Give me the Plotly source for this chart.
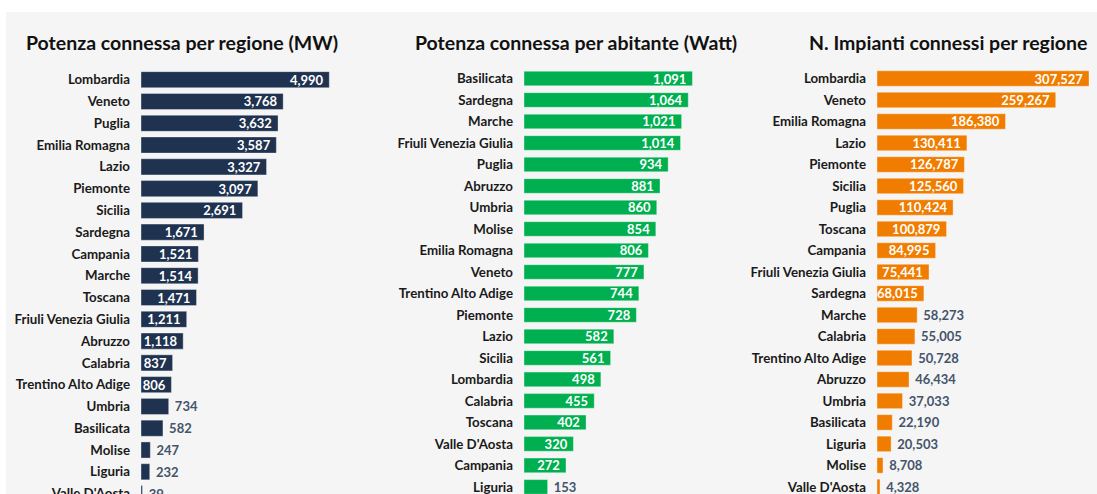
import plotly.graph_objects as go

# Potenza connessa per regione (MW)
regioni_mw = ["Lombardia", "Veneto", "Puglia", "Emilia Romagna", "Lazio", "Piemonte",
              "Sicilia", "Sardegna", "Campania", "Marche", "Toscana", "Friuli Venezia Giulia",
              "Abruzzo", "Calabria", "Trentino Alto Adige", "Umbria", "Basilicata", "Molise",
              "Liguria", "Valle D'Aosta"]
potenza_mw = [4990, 3768, 3632, 3587, 3327, 3097, 2691, 1671, 1521, 1514, 1471, 1211,
              1118, 837, 806, 734, 582, 247, 232, 39]

# Potenza connessa per abitante (Watt)
regioni_watt = ["Basilicata", "Sardegna", "Marche", "Friuli Venezia Giulia", "Puglia", "Abruzzo",
                "Umbria", "Molise", "Emilia Romagna", "Veneto", "Trentino Alto Adige", "Piemonte",
                "Lazio", "Sicilia", "Lombardia", "Calabria", "Toscana", "Valle D'Aosta",
                "Campania", "Liguria"]
potenza_watt = [1091, 1064, 1021, 1014, 934, 881, 860, 854, 806, 777, 744, 728,
                582, 561, 498, 455, 402, 320, 272, 153]

# N. impianti connessi per regione
regioni_imp = ["Lombardia", "Veneto", "Emilia Romagna", "Lazio", "Piemonte", "Sicilia",
               "Puglia", "Toscana", "Campania", "Friuli Venezia Giulia", "Sardegna", "Marche",
               "Calabria", "Trentino Alto Adige", "Abruzzo", "Umbria", "Basilicata", "Liguria",
               "Molise", "Valle D'Aosta"]
impianti = [307527, 259267, 186380, 130411, 126787, 125560, 110424, 100879, 84995, 75441,
            68015, 58273, 55005, 50728, 46434, 37033, 22190, 20503, 8708, 4328]

NBSP = "\u00a0"
FONT = "Lato"
W, H = 1097, 494

panels = [
    # names, values, colour, threshold for inside labels, x px domain, x max, y top px, y bottom index, bar width, title, title centre
    (regioni_mw, potenza_mw, "#1F3350", 800, (141, 372), 6122, 68.8, 19.02, 0.74,
     "Potenza connessa per regione (MW)", 182),
    (regioni_watt, potenza_watt, "#00B050", 250, (524, 750), 1464, 67.75, 19.33, 0.68,
     "Potenza connessa per abitante (Watt)", 576),
    (regioni_imp, impianti, "#F07D00", 60000, (877, 1097), 319130, 67.75, 19.33, 0.72,
     "N. Impianti connessi per regione", 948),
]

fig = go.Figure()
layout = {}
annotations = []

for i, (names, vals, color, thr, (x0, x1), xmax, ytop, ybot, bw, title, tx) in enumerate(panels):
    n = "" if i == 0 else str(i + 1)
    inside = [v >= thr for v in vals]
    texts = [f"{v:,}{NBSP}" if ins else f"{NBSP}{v:,}" for v, ins in zip(vals, inside)]
    fig.add_trace(go.Bar(
        x=vals, y=names, orientation="h",
        marker=dict(color=color, line=dict(width=0.6, color="rgba(255,255,255,0.6)")),
        width=bw,
        text=texts,
        textposition=["inside" if ins else "outside" for ins in inside],
        insidetextanchor="end",
        insidetextfont=dict(family=FONT, size=13, color="white", weight="bold"),
        outsidetextfont=dict(family=FONT, size=13, color="#44546A", weight="bold"),
        textangle=0,
        constraintext="none",
        cliponaxis=False,
        hoverinfo="skip",
        xaxis="x" + n, yaxis="y" + n,
    ))
    layout["xaxis" + n] = dict(domain=[x0 / W, x1 / W], range=[0, xmax], visible=False,
                               anchor="y" + n, fixedrange=True, automargin=False)
    layout["yaxis" + n] = dict(domain=[0, 1 - ytop / H], range=[ybot, -0.5],
                               type="category", categoryorder="array", categoryarray=names,
                               anchor="x" + n, showgrid=False, zeroline=False, showline=False,
                               ticks="", ticklabelstandoff=10, automargin=False,
                               tickfont=dict(family=FONT, size=13.3, color="#1A1A1A",
                                             weight="bold"),
                               fixedrange=True)
    annotations.append(dict(text=f"<b>{title}</b>", x=tx / W, y=1 - 43 / H,
                            xref="paper", yref="paper", xanchor="center", yanchor="middle",
                            showarrow=False, font=dict(family=FONT, size=19.5, color="#111111")))

fig.update_layout(
    **layout,
    annotations=annotations,
    shapes=[dict(type="rect", xref="paper", yref="paper", x0=6 / W, x1=1, y0=0, y1=1 - 12 / H,
                 fillcolor="#F5F5F5", line=dict(width=0), layer="below")],
    width=W, height=H,
    margin=dict(l=0, r=0, t=0, b=0, autoexpand=False),
    paper_bgcolor="white",
    plot_bgcolor="rgba(0,0,0,0)",
    showlegend=False,
    barmode="overlay",
)

fig.write_html("out.html", config={"displayModeBar": False},
               post_script="document.body.style.margin='0';document.body.style.overflow='hidden';")
